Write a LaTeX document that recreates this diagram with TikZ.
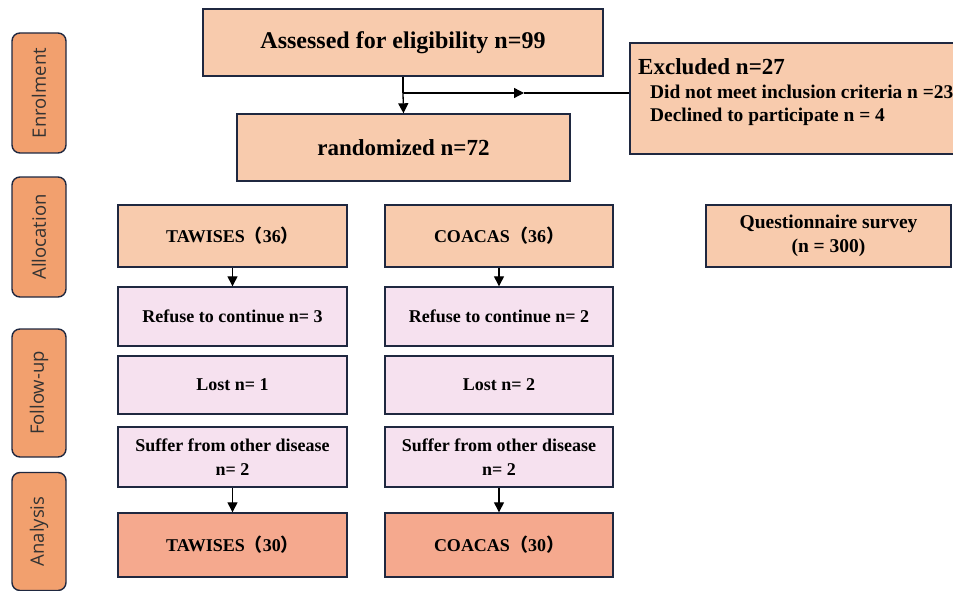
\documentclass[tikz,border=0pt]{standalone}
\usepackage{fontspec}
\setmainfont{Liberation Serif}
\newfontfamily\sidefont{Open Sans}
\newfontfamily\cjk{Noto Sans CJK SC}
\usetikzlibrary{arrows.meta}
\definecolor{peach}{HTML}{F8CBAD}
\definecolor{lav}{HTML}{F6E1EF}
\definecolor{salmon}{HTML}{F5A98E}
\definecolor{sideor}{HTML}{F2A06E}
\definecolor{navy}{HTML}{1F2840}
\newcommand{\fp}[1]{{\cjk （}#1{\cjk ）}}
\tikzset{
  box/.style={draw=navy, line width=1.4pt, inner sep=2pt, align=center,
    font=\bfseries\fontsize{18}{24}\selectfont, text=black},
  pbox/.style={box, fill=peach},
  lbox/.style={box, fill=lav},
  fbox/.style={box, fill=salmon},
  side/.style={draw=navy, line width=1.4pt, fill=sideor, rounded corners=8pt,
    minimum width=54pt, rotate=90, font=\sidefont\fontsize{18.5}{20}\selectfont, text=black!80},
  arr/.style={line width=1.3pt, -{Triangle[length=10pt,width=10pt]}},
  ln/.style={line width=1.3pt}
}
\begin{document}
\begin{tikzpicture}[x=1pt,y=-1pt]
\useasboundingbox (0,0) rectangle (953,591);
\clip (0,0) rectangle (953,591);
% side labels
\node[side, minimum width=120pt, minimum height=54pt] (enr) at (39,93) {Enrolment};
\node[side, minimum width=120pt, minimum height=54pt] (alloc) at (39,237) {Allocation};
\node[side, minimum width=128pt, minimum height=54pt] (fol) at (39,393) {Follow-up};
\node[side, minimum width=118pt, minimum height=54pt] (ana) at (39,531.5) {Analysis};
% enrolment
\node[pbox, minimum width=400pt, minimum height=67pt, font=\bfseries\fontsize{24}{26}\selectfont] (ass) at (403,42.5) {Assessed for eligibility n=99};
\node[pbox, minimum width=333pt, minimum height=67pt, font=\bfseries\fontsize{23}{26}\selectfont] (rand) at (403.5,147.5) {randomized n=72};
\node[pbox, minimum width=360pt, minimum height=111pt] (exc) at (810,98.5) {};
\node[anchor=base west, inner sep=0pt, font=\bfseries\fontsize{23}{26}\selectfont] (exct) at (638,75) {Excluded n=27};
\node[anchor=base west, inner sep=0pt, font=\bfseries\fontsize{19.4}{23}\selectfont] (exc1) at (650,99) {Did not meet inclusion criteria n =23};
\node[anchor=base west, inner sep=0pt, font=\bfseries\fontsize{19.4}{23}\selectfont] (exc2) at (650,122) {Declined to participate n = 4};
\coordinate (j) at (403,93);
\coordinate (m) at (524,93);
\draw[ln] (ass.south) -- (j);
\draw[arr] (j) -- (rand.north);
\draw[arr] (j) -- (m);
\draw[ln] (m) -- (exc.west |- m);
% allocation
\node[pbox, minimum width=229pt, minimum height=62pt] (ta) at (232.5,236) {TAWISES\fp{36}};
\node[pbox, minimum width=228pt, minimum height=62pt] (co) at (499,236) {COACAS\fp{36}};
\node[pbox, minimum width=245pt, minimum height=62pt, font=\bfseries\fontsize{19.5}{24}\selectfont] (q) at (828.5,236) {Questionnaire survey\\(n = 300)};
% follow-up
\node[lbox, minimum width=229pt, minimum height=59pt] (tr) at (232.5,316.5) {Refuse to continue n= 3};
\node[lbox, minimum width=228pt, minimum height=59pt] (cr) at (499,316.5) {Refuse to continue n= 2};
\node[lbox, minimum width=229pt, minimum height=58pt] (tl) at (232.5,385) {Lost n= 1};
\node[lbox, minimum width=228pt, minimum height=58pt] (cl) at (499,385) {Lost n= 2};
\node[lbox, minimum width=229pt, minimum height=60pt] (ts) at (232.5,457) {Suffer from other disease\\n= 2};
\node[lbox, minimum width=228pt, minimum height=60pt] (cs) at (499,457) {Suffer from other disease\\n= 2};
% analysis
\node[fbox, minimum width=229pt, minimum height=64pt] (tf) at (232.5,545) {TAWISES\fp{30}};
\node[fbox, minimum width=228pt, minimum height=64pt] (cf) at (499,545) {COACAS\fp{30}};
% arrows
\draw[arr] (ta.south) -- (tr.north);
\draw[arr] (co.south) -- (cr.north);
\draw[arr] (ts.south) -- (tf.north);
\draw[arr] (cs.south) -- (cf.north);
\end{tikzpicture}
\end{document}
